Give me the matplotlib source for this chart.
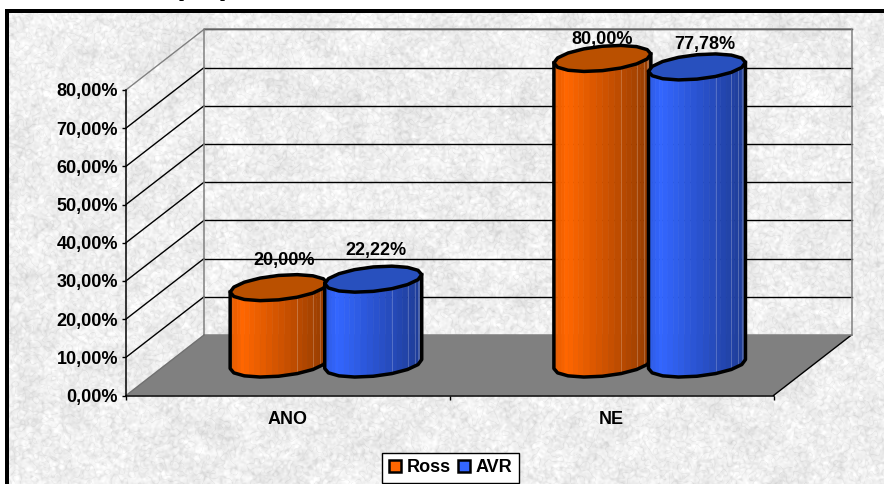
import numpy as np
import matplotlib
matplotlib.use("Agg")
import matplotlib.pyplot as plt
from matplotlib.patches import Patch, Polygon, Rectangle

categories = ["ANO", "NE"]
series_names = ["Ross", "AVR"]
ross_values = [20.00, 80.00]
avr_values = [22.22, 77.78]
y_ticks = [0, 10, 20, 30, 40, 50, 60, 70, 80]

W, H = 884, 484
CAT_PX = 323.75     # pixels per category
VAL_PX = 3.82       # pixels per percent
AXIS_X, AXIS_Y = 126, 395.5

# oblique projection, depth vector in data units
DEPTH_X = 78 / CAT_PX
DEPTH_Y = 60.5 / VAL_PX

plt.rcParams["font.family"] = ["Liberation Sans", "DejaVu Sans"]
plt.rcParams["font.weight"] = "bold"
plt.rcParams["font.size"] = 13


def depth(x, y, d):
    return x + d * DEPTH_X, y + d * DEPTH_Y


def smooth_noise(rng, h, w, sigma):
    fx = np.fft.fftfreq(w)[None, :]
    fy = np.fft.fftfreq(h)[:, None]
    r2 = fx**2 + fy**2
    n = np.fft.ifft2(np.fft.fft2(rng.normal(size=(h, w))) * np.exp(-r2 * 2 * (np.pi * sigma)**2)).real
    return n / n.std()


def paper_texture(h, w):
    # mottled grey fill behind the chart, worm-like veins from the noise zero crossings
    rng = np.random.default_rng(7)
    veins = np.exp(-(smooth_noise(rng, h, w, 1.8) / 0.4)**2)
    speck = smooth_noise(rng, h, w, 1.1)
    blotch = smooth_noise(rng, h, w, 8)
    img = 241 - 11 * veins + 5 * speck + 3 * blotch
    img = np.clip(img, 190, 255) / 255
    return np.dstack([img, img, img])


def cylinder(ax, cx, value, light, top_col, z):
    # elliptical base sheared by the depth direction
    half_w = 45.5 / CAT_PX
    rad = 0.215
    alpha = np.arctan2(rad * DEPTH_X * CAT_PX, half_w * CAT_PX)
    x0, y0 = depth(cx, 0, 0.52)

    def rim(theta, height):
        return (x0 + half_w * np.cos(theta) + rad * DEPTH_X * np.sin(theta),
                y0 + height + rad * DEPTH_Y * np.sin(theta))

    # a coarse facet count gives the slightly lumpy rim, strips subdivide it for the shading
    coarse_x, coarse_y = rim(np.linspace(alpha + np.pi, alpha + 2 * np.pi, 9), 0)
    bx = np.interp(np.linspace(0, 8, 25), np.arange(9), coarse_x)
    by = np.interp(np.linspace(0, 8, 25), np.arange(9), coarse_y)
    tx, ty = bx, by + value
    span = (bx - bx[0]) / (bx[-1] - bx[0])
    light = np.array(light)
    for i in range(len(bx) - 1):
        s = (span[i] + span[i + 1]) / 2
        # brightest just inside the left edge, falling off to the right
        k = 0.88 + 0.12 * s / 0.13 if s < 0.13 else 1 - 0.42 * (s - 0.13) / 0.87
        col = light * k
        ax.add_patch(Polygon([(bx[i], by[i]), (bx[i + 1], by[i + 1]), (tx[i + 1], ty[i + 1]), (tx[i], ty[i])],
                             closed=True, fc=col, ec=col, lw=0.4, zorder=z))
    # thin facet highlights on the shaded side
    for i in [15, 18, 20, 21, 22]:
        ax.plot([bx[i], tx[i]], [by[i], ty[i]], color="white", alpha=0.22, lw=0.7, zorder=z + 0.1)
    ax.plot(np.r_[tx[0], bx, tx[-1]], np.r_[ty[0], by, ty[-1]], color="black", lw=2.5,
            solid_joinstyle="round", zorder=z + 0.2)
    whole = np.linspace(alpha, alpha + 2 * np.pi, 17)
    ex, ey = rim(whole, value)
    ax.add_patch(Polygon(np.c_[ex, ey], closed=True, fc=top_col, ec="black", lw=2.5, joinstyle="round", zorder=z + 0.3))


fig = plt.figure(figsize=(W / 100, H / 100), dpi=100, facecolor="white")
fig.figimage(paper_texture(H - 13, W - 9), xo=9, yo=0, origin="upper", zorder=-5)
fig.add_artist(Rectangle((5 / W, 0), 4 / W, 1 - 9 / H, transform=fig.transFigure, fc="black", ec="none", zorder=-4))
fig.add_artist(Rectangle((5 / W, 1 - 12.7 / H), 1 - 5 / W, 3.7 / H, transform=fig.transFigure, fc="black", ec="none", zorder=-4))

# stems of the line of text above the frame
for px in [184, 225]:
    fig.text(px / W, 1 + 3 / H, "p", family="Liberation Serif", fontsize=13, ha="center", va="baseline")

ax = fig.add_axes([0, 0, 1, 1])
ax.patch.set_visible(False)
ax.set_xlim(-AXIS_X / CAT_PX, (W - AXIS_X) / CAT_PX)
ax.set_ylim((AXIS_Y - H) / VAL_PX, AXIS_Y / VAL_PX)

n_cat = len(categories)
x_wall0, y_wall0 = depth(0, 0, 1)
x_wall1, _ = depth(n_cat, 0, 1)
y_wall1 = y_wall0 + y_ticks[-1]

# floor
floor = [depth(0, 0, 0), depth(n_cat, 0, 0), depth(n_cat, 0, 1), depth(0, 0, 1)]
ax.add_patch(Polygon(floor, closed=True, fc="#808080", ec="none", zorder=1))
fx, fy = zip(depth(n_cat, 0, 0), depth(n_cat, 0, 1))
ax.plot(fx, fy, color="black", lw=1.0, zorder=2)

# gridlines on the side and back walls
for v in y_ticks[1:]:
    gc = "#808080" if v == y_ticks[-1] else "black"
    sx, sy = zip(depth(0, v, 0), depth(0, v, 1))
    ax.plot(sx, sy, color=gc, lw=1.0, zorder=2)
    ax.plot([x_wall0, x_wall1], [y_wall0 + v, y_wall0 + v], color="black", lw=1.0, zorder=2)

# wall outline
ax.plot([x_wall0, x_wall0, x_wall1, x_wall1], [y_wall0, y_wall1, y_wall1, y_wall0], color="#808080", lw=1.1, zorder=2.1)
ax.plot([x_wall0, x_wall1], [y_wall0, y_wall0], color="#808080", lw=1.1, zorder=2.1)
sx, sy = zip(depth(0, 0, 0), depth(0, 0, 1))
ax.plot(sx, sy, color="#707070", lw=1.0, zorder=2.1)

# cylinders, Ross first so AVR overlaps it
bar_off = 47.3 / CAT_PX
bar_shift = -2.5 / CAT_PX
z = 3
for idx in range(n_cat):
    c = idx + 0.5 + bar_shift
    cylinder(ax, c - bar_off, ross_values[idx], (1.0, 0.4, 0.0), "#BA5000", z)
    cylinder(ax, c + bar_off, avr_values[idx], (0.2, 0.4, 1.0), "#2850BE", z + 1)
    z += 2

# value labels
label_nudge = {("Ross", 0): (-11.5, 5.5), ("AVR", 0): (-14, 7.5), ("Ross", 1): (-17.5, -3), ("AVR", 1): (-9, 1)}
for name, vals in zip(series_names, [ross_values, avr_values]):
    sign = -1 if name == "Ross" else 1
    for idx, v in enumerate(vals):
        c = idx + 0.5 + bar_shift + sign * bar_off
        lx, ly = depth(c, v, 0.52 + 0.215)
        nx, ny = label_nudge[(name, idx)]
        ax.annotate(f"{v:.2f}%".replace(".", ","), (lx, ly), xytext=(nx * 0.72, ny * 0.72),
                    textcoords="offset points", ha="center", va="bottom", zorder=20)

# axes
for side in ["top", "right"]:
    ax.spines[side].set_visible(False)
ax.spines["left"].set_position(("data", 0))
ax.spines["bottom"].set_position(("data", 0))
ax.spines["left"].set_bounds(0, y_ticks[-1])
ax.spines["bottom"].set_bounds(0, n_cat)
ax.spines["left"].set_linewidth(1.1)
ax.spines["bottom"].set_linewidth(1.1)
ax.spines["left"].set_zorder(2.5)
ax.spines["bottom"].set_zorder(2.5)
ax.set_yticks(y_ticks)
ax.set_yticklabels([f"{v:.2f}%".replace(".", ",") for v in y_ticks])
ax.set_xticks(range(n_cat + 1))
ax.set_xticklabels([])
ax.set_xticks([i + 0.5 for i in range(n_cat)], minor=True)
ax.set_xticklabels(categories, minor=True)
ax.tick_params(axis="y", length=3, width=1.0, pad=2.6)
ax.tick_params(axis="x", which="major", length=3, width=1.0)
ax.tick_params(axis="x", which="minor", length=0, pad=11)

# legend
handles = [Patch(fc="#FF6600", ec="black", lw=1.8, label=series_names[0]),
           Patch(fc="#3366FF", ec="black", lw=1.8, label=series_names[1])]
leg = ax.legend(handles=handles, ncol=2, loc="lower left", bbox_to_anchor=(382 / W, 1 / H), bbox_transform=fig.transFigure,
                fancybox=False, framealpha=1, facecolor="white", edgecolor="black", borderaxespad=0,
                borderpad=0.36, handlelength=0.7, handleheight=0.62, handletextpad=0.3, columnspacing=0.38,
                labelspacing=0, fontsize=13)
leg.get_frame().set_linewidth(1.0)
leg.set_zorder(30)

fig.savefig("out.png", dpi=100)
